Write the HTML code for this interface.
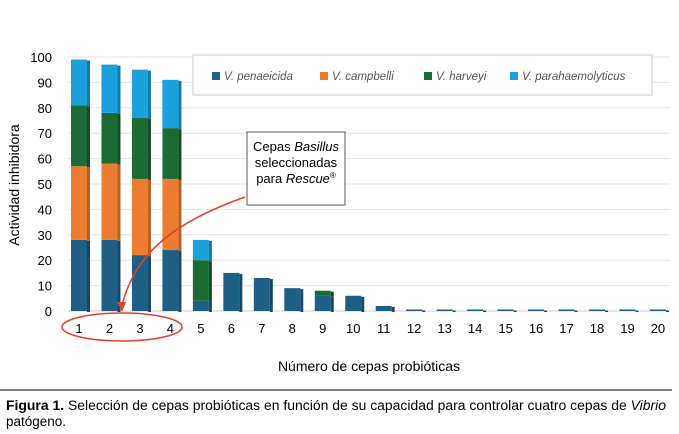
<!DOCTYPE html>
<html><head><meta charset="utf-8"><style>
body{margin:0;background:#fff;font-family:"Liberation Sans",sans-serif}
svg{display:block}
</style></head><body>
<svg width="679" height="434" xmlns="http://www.w3.org/2000/svg" font-family="Liberation Sans, sans-serif">
<g id="grid"></g>
<g id="bars"></g>
<g id="xt"></g>
<g id="yt"></g>
<text x="19" y="185" font-size="14" text-anchor="middle" transform="rotate(-90 19 185)">Actividad inhibidora</text>
<text x="369" y="371" font-size="14" text-anchor="middle">Número de cepas probióticas</text>
<g>
<rect x="193" y="55" width="459" height="40" fill="#fff" stroke="#ccc"/>
<rect x="212" y="72" width="8" height="8" fill="#1f5f86"/><text x="224" y="80" font-size="11.5" font-style="italic" fill="#555">V. penaeicida</text>
<rect x="320" y="72" width="8" height="8" fill="#ec7c30"/><text x="332" y="80" font-size="11.5" font-style="italic" fill="#555">V. campbelli</text>
<rect x="424" y="72" width="8" height="8" fill="#1c6b35"/><text x="436" y="80" font-size="11.5" font-style="italic" fill="#555">V. harveyi</text>
<rect x="510" y="72" width="8" height="8" fill="#1aa0dc"/><text x="522" y="80" font-size="11.5" font-style="italic" fill="#555">V. parahaemolyticus</text>
</g>
<g>
<rect x="247" y="132" width="98" height="73" fill="#fff" stroke="#555"/>
<text x="296" y="151" font-size="13" text-anchor="middle">Cepas <tspan font-style="italic">Basillus</tspan></text>
<text x="296" y="167" font-size="13" text-anchor="middle">seleccionadas</text>
<text x="296" y="183" font-size="13" text-anchor="middle">para <tspan font-style="italic">Rescue</tspan><tspan font-size="8" dy="-5">®</tspan></text>
<path d="M245 197 C180 220 135 250 122 306" fill="none" stroke="#e2412f" stroke-width="1.5"/>
<path d="M117 302 L122 312 L126 302 Z" fill="#e2412f"/>
<ellipse cx="122" cy="327" rx="60" ry="14" fill="none" stroke="#e2412f" stroke-width="1.5"/>
</g>
<line x1="0" y1="390" x2="672" y2="390" stroke="#000" stroke-width="1"/>
<text x="6" y="410" font-size="13.5" textLength="660" lengthAdjust="spacingAndGlyphs"><tspan font-weight="bold">Figura 1.</tspan> Selección de cepas probióticas en función de su capacidad para controlar cuatro cepas de <tspan font-style="italic">Vibrio</tspan></text>
<text x="6" y="426" font-size="13.5" textLength="60" lengthAdjust="spacingAndGlyphs">patógeno.</text>
</svg>
<script>
const categories=["1","2","3","4","5","6","7","8","9","10","11","12","13","14","15","16","17","18","19","20"];
const penaeicida=[28,28,22,24,4,15,13,9,6,6,2,0.6,0.6,0.6,0.6,0.6,0.6,0.6,0.6,0.6];
const campbelli=[29,30,30,28,0,0,0,0,0,0,0,0,0,0,0,0,0,0,0,0];
const harveyi=[24,20,24,20,16,0,0,0,2,0,0,0,0,0,0,0,0,0,0,0];
const parahaemolyticus=[18,19,19,19,8,0,0,0,0,0,0,0,0,0,0,0,0,0,0,0];
const yTicks=[0,10,20,30,40,50,60,70,80,90,100];
const series=[[penaeicida,"#1f5f86","#174868"],[campbelli,"#ec7c30","#b95e22"],[harveyi,"#1c6b35","#134d26"],[parahaemolyticus,"#1aa0dc","#137aa8"]];
const NS="http://www.w3.org/2000/svg";
const y=v=>311-v*2.54;
const x=i=>79+i*30.47;
function mk(t,a,p){const e=document.createElementNS(NS,t);for(const k in a)e.setAttribute(k,a[k]);p.appendChild(e);return e;}
const grid=document.getElementById('grid'),yt=document.getElementById('yt'),xt=document.getElementById('xt'),bars=document.getElementById('bars');
yTicks.forEach(v=>{
 const l=mk('line',{x1:68,x2:670,y1:y(v),y2:y(v),stroke:v===0?'#ccc':'#e3e3e3'},grid);
 
 
 const t=mk('text',{x:52,y:y(v)+5,'font-size':13,'text-anchor':'end'},yt);t.textContent=v;
 
 
});
categories.forEach((c,i)=>{
 const t=mk('text',{x:x(i),y:333,'font-size':13,'text-anchor':'middle'},xt);t.textContent=c;
 
 
 let base=0;
 series.forEach(([arr,col,dark])=>{
  const v=arr[i];if(!v)return;
  const top=base+v;
  const r=mk('rect',{x:x(i)-8,y:y(top),width:16,height:y(base)-y(top),fill:col},bars);
  
  
  const s=mk('rect',{x:x(i)+8,y:y(top)+1,width:3,height:y(base)-y(top),fill:dark},bars);
  
  
  base=top;
 });
});
</script>
</body></html>
